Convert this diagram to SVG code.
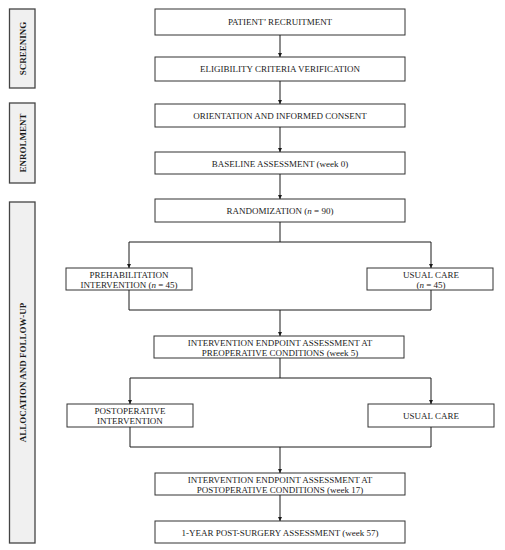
<svg xmlns="http://www.w3.org/2000/svg" width="505" height="550" viewBox="0 0 505 550">
<defs>
<marker id="ah" viewBox="0 0 8 8" refX="8" refY="4" markerWidth="4.5" markerHeight="4.5" markerUnits="userSpaceOnUse" orient="auto"><path d="M0,0 L8,4 L0,8 Z" fill="#1a1a1a"/></marker>
</defs>
<style>
.b{fill:#fff;stroke:#333;stroke-width:1}
.s{fill:#f0f0f0;stroke:#444;stroke-width:1.3}
.t{font-family:"Liberation Serif","Times New Roman",serif;font-size:9px;fill:#1a1a1a;text-anchor:middle}
.st{font-family:"Liberation Serif","Times New Roman",serif;font-size:9px;font-weight:bold;fill:#1a1a1a;text-anchor:middle}
.c{fill:none;stroke:#1a1a1a;stroke-width:1}
</style>
<rect width="505" height="550" fill="#fff"/>
<g id="side-screening"><rect class="s" x="9.5" y="9" width="25.5" height="79"/><text class="st" transform="translate(25.5,48.5) rotate(-90)">SCREENING</text></g>
<g id="side-enrolment"><rect class="s" x="9.5" y="103" width="25.5" height="80"/><text class="st" transform="translate(25.5,143) rotate(-90)">ENROLMENT</text></g>
<g id="side-allocation"><rect class="s" x="9.5" y="202" width="25.5" height="341"/><text class="st" transform="translate(25.5,372.5) rotate(-90)">ALLOCATION AND FOLLOW-UP</text></g>
<g id="n1"><rect class="b" x="155" y="9" width="250" height="26"/><text class="t" x="280" y="25">PATIENT’ RECRUITMENT</text></g>
<g id="n2"><rect class="b" x="155" y="57" width="250" height="24"/><text class="t" x="280" y="72">ELIGIBILITY CRITERIA VERIFICATION</text></g>
<g id="n3"><rect class="b" x="155" y="104" width="250" height="23"/><text class="t" x="280" y="119">ORIENTATION AND INFORMED CONSENT</text></g>
<g id="n4"><rect class="b" x="155" y="152" width="250" height="22"/><text class="t" x="280" y="166.5">BASELINE ASSESSMENT (week 0)</text></g>
<g id="n5"><rect class="b" x="155" y="199" width="250" height="23"/><text class="t" x="280" y="214">RANDOMIZATION (<tspan font-style="italic">n</tspan> = 90)</text></g>
<g id="n6"><rect class="b" x="66" y="268" width="126" height="22"/><text class="t" x="129" y="277.5">PREHABILITATION</text><text class="t" x="129" y="288">INTERVENTION (<tspan font-style="italic">n</tspan> = 45)</text></g>
<g id="n7"><rect class="b" x="367" y="268" width="126" height="22"/><text class="t" x="431" y="277.5">USUAL CARE</text><text class="t" x="431" y="288">(<tspan font-style="italic">n</tspan> = 45)</text></g>
<g id="n8"><rect class="b" x="154" y="336" width="250" height="22"/><text class="t" x="280" y="345.5">INTERVENTION ENDPOINT ASSESSMENT AT</text><text class="t" x="280" y="356">PREOPERATIVE CONDITIONS (week 5)</text></g>
<g id="n9"><rect class="b" x="67" y="404" width="126" height="23"/><text class="t" x="130" y="413.5">POSTOPERATIVE</text><text class="t" x="130" y="424">INTERVENTION</text></g>
<g id="n10"><rect class="b" x="368" y="404" width="126" height="23"/><text class="t" x="431" y="419">USUAL CARE</text></g>
<g id="n11"><rect class="b" x="155" y="473" width="250" height="22"/><text class="t" x="280" y="482.5">INTERVENTION ENDPOINT ASSESSMENT AT</text><text class="t" x="280" y="493">POSTOPERATIVE CONDITIONS (week 17)</text></g>
<g id="n12"><rect class="b" x="155" y="521" width="250" height="22"/><text class="t" x="280" y="535.5">1-YEAR POST-SURGERY ASSESSMENT (week 57)</text></g>
<g id="connectors">
<line class="c" x1="280" y1="35" x2="280" y2="57" marker-end="url(#ah)"/>
<line class="c" x1="280" y1="81" x2="280" y2="104" marker-end="url(#ah)"/>
<line class="c" x1="280" y1="127" x2="280" y2="152" marker-end="url(#ah)"/>
<line class="c" x1="280" y1="174" x2="280" y2="199" marker-end="url(#ah)"/>
<polyline class="c" points="280,222 280,242"/>
<polyline class="c" points="280,242 129,242 129,268" marker-end="url(#ah)"/>
<polyline class="c" points="280,242 431,242 431,268" marker-end="url(#ah)"/>
<polyline class="c" points="129,290 129,310 431,310 431,290"/>
<line class="c" x1="280" y1="310" x2="280" y2="336" marker-end="url(#ah)"/>
<polyline class="c" points="280,358 280,378"/>
<polyline class="c" points="280,378 130,378 130,404" marker-end="url(#ah)"/>
<polyline class="c" points="280,378 431,378 431,404" marker-end="url(#ah)"/>
<polyline class="c" points="130,427 130,447 431,447 431,427"/>
<line class="c" x1="280" y1="447" x2="280" y2="473" marker-end="url(#ah)"/>
<line class="c" x1="280" y1="495" x2="280" y2="521" marker-end="url(#ah)"/>
</g>
</svg>
